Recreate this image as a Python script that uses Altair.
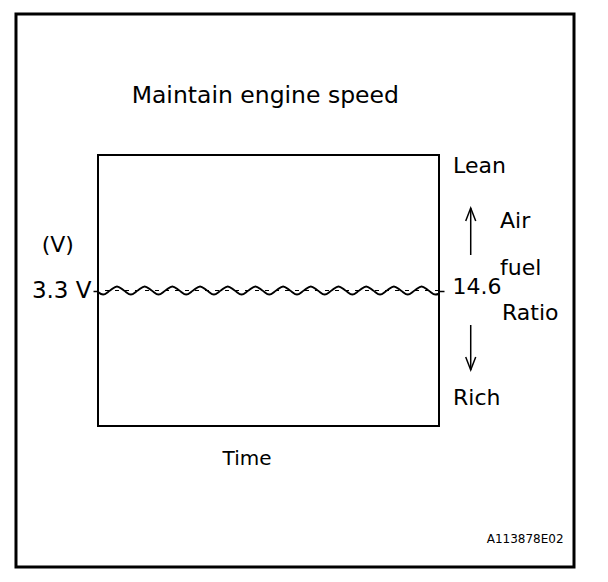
import altair as alt
import pandas as pd

FONT = "DejaVu Sans"

# ---- data ----
# time axis in % of the recording window, sensor output in volts
time_pct = [0.0, 1.51, 3.54, 5.57, 7.6, 9.63, 11.66, 13.69, 15.72, 17.75, 19.78,
            21.81, 23.84, 25.87, 27.9, 29.93, 31.96, 33.99, 36.02, 38.05, 40.08,
            42.11, 44.14, 46.17, 48.2, 50.23, 52.26, 54.29, 56.32, 58.35, 60.38,
            62.41, 64.44, 66.47, 68.5, 70.53, 72.56, 74.59, 76.62, 78.65, 80.68,
            82.71, 84.74, 86.77, 88.8, 90.83, 92.86, 94.89, 96.92, 98.95, 100.0]
signal_v = [3.26, 3.2, 3.3, 3.4, 3.3, 3.2, 3.3, 3.4, 3.3, 3.2, 3.3,
            3.4, 3.3, 3.2, 3.3, 3.4, 3.3, 3.2, 3.3, 3.4, 3.3,
            3.2, 3.3, 3.4, 3.3, 3.2, 3.3, 3.4, 3.3, 3.2, 3.3,
            3.4, 3.3, 3.2, 3.3, 3.4, 3.3, 3.2, 3.3, 3.4, 3.3,
            3.2, 3.3, 3.4, 3.3, 3.2, 3.3, 3.4, 3.3, 3.2, 3.22]
voltage_ticks = [3.3]
afr_ticks = [14.6]
side_labels = ["(V)", "Lean", "Air", "fuel", "Ratio", "Rich"]
title_text = "Maintain engine speed"
x_title = "Time"
code_text = "A113878E02"

# ---- scales ----
X = alt.Scale(domain=[0, 100], nice=False, zero=False)
YV = alt.Scale(domain=[0, 6.6], nice=False, zero=False)
YA = alt.Scale(domain=[13.6, 15.6], nice=False, zero=False)


def xq(field):
    return alt.X(field, type="quantitative", scale=X, axis=None)


def yq(field):
    return alt.Y(field, type="quantitative", scale=YV, axis=None)


wave_df = pd.DataFrame({"t": time_pct, "v": signal_v})

wave = alt.Chart(wave_df).mark_line(
    color="black", strokeWidth=2, interpolate="monotone"
).encode(
    x=xq("t"),
    y=alt.Y("v:Q", scale=YV, axis=alt.Axis(
        orient="left", values=voltage_ticks,
        labelExpr="format(datum.value, '.1f') + ' V'",
        domain=False, grid=False, ticks=True, tickSize=5, tickWidth=1.5,
        tickColor="black", labelFont=FONT, labelFontSize=23, labelColor="black",
        labelPadding=2, title=None)),
)

ref = alt.Chart(pd.DataFrame({"afr": afr_ticks})).mark_rule(
    color="black", strokeWidth=1, strokeDash=[4, 6]
).encode(
    y=alt.Y("afr:Q", scale=YA, axis=alt.Axis(
        orient="right", values=afr_ticks, format=".1f",
        domain=False, grid=False, ticks=True, tickSize=5, tickWidth=1.5,
        tickColor="black", labelFont=FONT, labelFontSize=22, labelColor="black",
        labelPadding=8, labelOffset=-4, title=None)),
)

# annotation layout (text positions in the chart's own time / volt units)
ann_df = pd.DataFrame({
    "label": side_labels,
    "t": [-16.51, 104.11, 117.89, 117.89, 118.48, 104.11],
    "v": [4.2376, 6.1616, 4.8343, 3.6775, 2.5815, 0.5114],
})
side = alt.Chart(ann_df).mark_text(
    font=FONT, fontSize=22, align="left", baseline="alphabetic", color="black"
).encode(x=xq("t"), y=yq("v"), text="label:N")

title = alt.Chart(pd.DataFrame({"label": [title_text], "t": [9.88], "v": [7.8591]})).mark_text(
    font=FONT, fontSize=23.5, align="left", baseline="alphabetic", color="black"
).encode(x=xq("t"), y=yq("v"), text="label:N")

xlab = alt.Chart(pd.DataFrame({"label": [x_title], "t": [43.70], "v": [-0.9498]})).mark_text(
    font=FONT, fontSize=20, align="center", baseline="alphabetic", color="black"
).encode(x=xq("t"), y=yq("v"), text="label:N")

code = alt.Chart(pd.DataFrame({"label": [code_text], "t": [113.99], "v": [-2.8494]})).mark_text(
    font=FONT, fontSize=12, align="left", baseline="alphabetic", color="black"
).encode(x=xq("t"), y=yq("v"), text="label:N")

frame = alt.Chart(pd.DataFrame({"t0": [-24.05], "t1": [139.59], "v0": [-3.434], "v1": [10.034]})).mark_rect(
    fillOpacity=0, stroke="black", strokeWidth=3
).encode(x=xq("t0"), x2="t1:Q", y=yq("v0"), y2="v1:Q")

arrow_df = pd.DataFrame({
    "dir": ["up", "down"],
    "t": [109.30, 109.30],
    "tail": [4.1646, 2.4598],
    "tip": [5.309, 1.3638],
    "head": [5.1509, 1.5221],
})
shafts = alt.Chart(arrow_df).mark_rule(color="black", strokeWidth=1.5).encode(
    x=xq("t"), y=yq("tail"), y2="tip:Q",
)
UP = "M -0.77 1 L 0 -1 L 0.77 1"
DOWN = "M -0.77 -1 L 0 1 L 0.77 -1"
heads = alt.Chart(arrow_df).mark_point(
    filled=False, color="black", strokeWidth=1.5, size=169, opacity=1
).encode(
    x=xq("t"), y=yq("head"),
    shape=alt.Shape("dir:N", scale=alt.Scale(domain=["up", "down"], range=[UP, DOWN]), legend=None),
)

chart = alt.layer(
    wave, ref, frame, side, title, xlab, code, shafts, heads
).resolve_scale(y="independent").properties(
    width=341, height=271,
    autosize=alt.AutoSizeParams(type="none"),
    padding={"left": 90, "top": 147, "right": 161, "bottom": 148},
    background="white",
).configure_view(stroke="black", strokeWidth=2)

chart.save("out.html", embed_options={"renderer": "svg", "actions": False})
